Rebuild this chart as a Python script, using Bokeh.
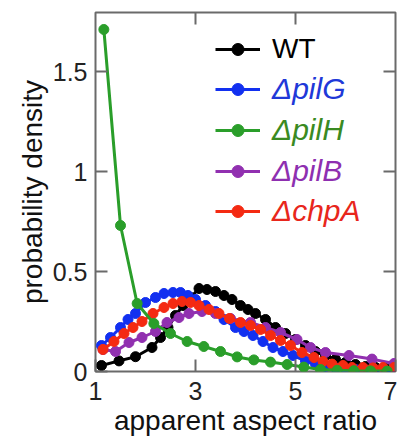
from bokeh.plotting import figure
from bokeh.models import Range1d, FixedTicker, Legend, LegendItem
from bokeh.embed import file_html
from bokeh.resources import INLINE

# ---- data ----
wt_x = [1.12, 1.47, 1.8, 2.13, 2.3, 2.45, 2.6, 2.75, 2.9, 3.07, 3.23, 3.4, 3.57, 3.73, 3.9,
        4.05, 4.2, 4.4, 4.6, 4.8, 5.0, 5.2, 5.4, 5.6, 5.8, 6.0, 6.2, 6.4, 6.6, 6.8, 6.97]
wt_y = [0.03, 0.053, 0.074, 0.12, 0.17, 0.22, 0.28, 0.33, 0.37, 0.415, 0.41, 0.40, 0.38, 0.36, 0.33,
        0.31, 0.29, 0.26, 0.22, 0.19, 0.16, 0.13, 0.10, 0.08, 0.06, 0.045, 0.035, 0.025, 0.02, 0.015, 0.012]

pilG_x = [1.12, 1.3, 1.5, 1.65, 1.8, 2.0, 2.2, 2.37, 2.55, 2.7, 2.85, 3.0, 3.2, 3.4, 3.57, 3.8,
          3.97, 4.15, 4.35, 4.55, 4.75, 4.95, 5.2, 5.4, 5.6, 5.8, 6.0, 6.2, 6.4, 6.6, 6.8, 6.97]
pilG_y = [0.13, 0.17, 0.22, 0.26, 0.29, 0.345, 0.37, 0.39, 0.395, 0.395, 0.38, 0.36, 0.33, 0.30, 0.26, 0.22,
          0.20, 0.18, 0.15, 0.12, 0.10, 0.08, 0.053, 0.037, 0.025, 0.018, 0.013, 0.01, 0.008, 0.006, 0.005, 0.004]

pilH_x = [1.167, 1.5, 1.833, 2.167, 2.5, 2.833, 3.167, 3.5, 3.833, 4.167, 4.5, 4.833,
          5.167, 5.5, 5.833, 6.167, 6.5, 6.833]
pilH_y = [1.71, 0.73, 0.34, 0.24, 0.19, 0.15, 0.125, 0.10, 0.073, 0.058, 0.047, 0.035,
          0.022, 0.01, 0.006, 0.004, 0.003, 0.002]

pilB_x = [1.15, 1.4, 1.67, 1.93, 2.2, 2.43, 2.67, 2.87, 3.13, 3.4, 3.7, 4.1, 4.4, 4.7,
          5.03, 5.3, 5.6, 6.07, 6.53, 6.97]
pilB_y = [0.11, 0.10, 0.145, 0.17, 0.20, 0.245, 0.27, 0.29, 0.30, 0.29, 0.265, 0.245, 0.22, 0.195,
          0.16, 0.12, 0.095, 0.08, 0.062, 0.04]

chpA_x = [1.15, 1.37, 1.57, 1.75, 1.93, 2.15, 2.37, 2.55, 2.73, 2.9, 3.07, 3.27, 3.47, 3.68, 3.9,
          4.1, 4.3, 4.5, 4.7, 4.9, 5.13, 5.37, 5.55, 5.73, 5.95, 6.13, 6.35, 6.55, 6.75, 6.97]
chpA_y = [0.11, 0.15, 0.19, 0.22, 0.25, 0.29, 0.32, 0.34, 0.35, 0.345, 0.33, 0.31, 0.29, 0.265, 0.245,
          0.23, 0.21, 0.18, 0.155, 0.13, 0.095, 0.07, 0.05, 0.037, 0.03, 0.02, 0.02, 0.018, 0.02, 0.02]

labels = ["WT", "\u0394pilG", "\u0394pilH", "\u0394pilB", "\u0394chpA"]
x_ticks = [1, 3, 5, 7]
y_ticks = [0, 0.5, 1, 1.5]
y_tick_labels = ["0", "0.5", "1", "1.5"]
X0, X1, Y0, Y1 = 1, 7, 0, 1.795

FONT = "Liberation Sans"
AX = "#6a6a6a"
FW, FH = 300, 359

p = figure(frame_width=FW, frame_height=FH, x_range=Range1d(X0, X1), y_range=Range1d(Y0, Y1),
           output_backend="svg", toolbar_location=None,
           min_border_left=95, min_border_right=2, min_border_top=12, min_border_bottom=60,
           x_axis_label="apparent aspect ratio", y_axis_label="probability density")
p.grid.visible = False
p.outline_line_color = AX
p.outline_line_width = 2
p.background_fill_color = "white"

for ax in (p.xaxis[0], p.yaxis[0]):
    ax.axis_line_color = None
    ax.major_tick_in = 12
    ax.major_tick_out = 0
    ax.minor_tick_line_color = None
    ax.major_tick_line_color = AX
    ax.major_tick_line_width = 2
    ax.major_label_text_font = FONT
    ax.major_label_text_font_size = "25px"
    ax.major_label_text_color = "#222222"
    ax.axis_label_text_font = FONT
    ax.axis_label_text_font_size = "28px"
    ax.axis_label_text_font_style = "normal"
    ax.axis_label_text_color = "#111111"

p.xaxis[0].ticker = FixedTicker(ticks=x_ticks)
p.xaxis[0].major_label_standoff = 10
p.xaxis[0].axis_label_standoff = 2
p.yaxis[0].ticker = FixedTicker(ticks=y_ticks)
p.yaxis[0].major_label_overrides = {t: s for t, s in zip(y_ticks, y_tick_labels)}
p.yaxis[0].major_label_standoff = 8
p.yaxis[0].axis_label_standoff = 2

# mirrored inward ticks on the top and right frame edges (12 px long)
tx = [t for t in x_ticks if X0 < t < X1]
ty = [t for t in y_ticks if Y0 < t < Y1]
dy = 12 * (Y1 - Y0) / FH
dx = 12 * (X1 - X0) / FW
p.segment(x0=tx, y0=[Y1] * len(tx), x1=tx, y1=[Y1 - dy] * len(tx), line_color=AX, line_width=2)
p.segment(x0=[X1] * len(ty), y0=ty, x1=[X1 - dx] * len(ty), y1=ty, line_color=AX, line_width=2)

series = [
    (labels[0], wt_x, wt_y, "#000000", "#000000"),
    (labels[1], pilG_x, pilG_y, "#1230f0", "#2038d8"),
    (labels[3], pilB_x, pilB_y, "#9130b0", "#8e2fb0"),
    (labels[4], chpA_x, chpA_y, "#f42a12", "#e8261c"),
    (labels[2], pilH_x, pilH_y, "#2a9e2a", "#3a8a22"),
]
rends = {}
for lab, xs, ys, c, tc in series:
    l = p.line(xs, ys, line_color=c, line_width=3)
    s = p.scatter(xs, ys, size=10, fill_color=c, line_color=c)
    rends[lab] = (l, s, tc)

# legend, one box per entry so each label can take its series colour
row_y = [306, 265, 224, 183, 143]
for lab, ry in zip(labels, row_y):
    l, s, tc = rends[lab]
    leg = Legend(items=[LegendItem(label=lab, renderers=[l, s])], location=(120, ry),
                 padding=0, margin=0, border_line_color=None, background_fill_alpha=0,
                 glyph_width=45, glyph_height=30, label_height=30, label_standoff=12,
                 label_text_font=FONT,
                 label_text_font_size="28px" if lab == "WT" else "30px",
                 label_text_color=tc,
                 label_text_font_style="normal" if lab == "WT" else "italic")
    p.add_layout(leg)

open("out.html", "w").write(file_html(p, INLINE))
